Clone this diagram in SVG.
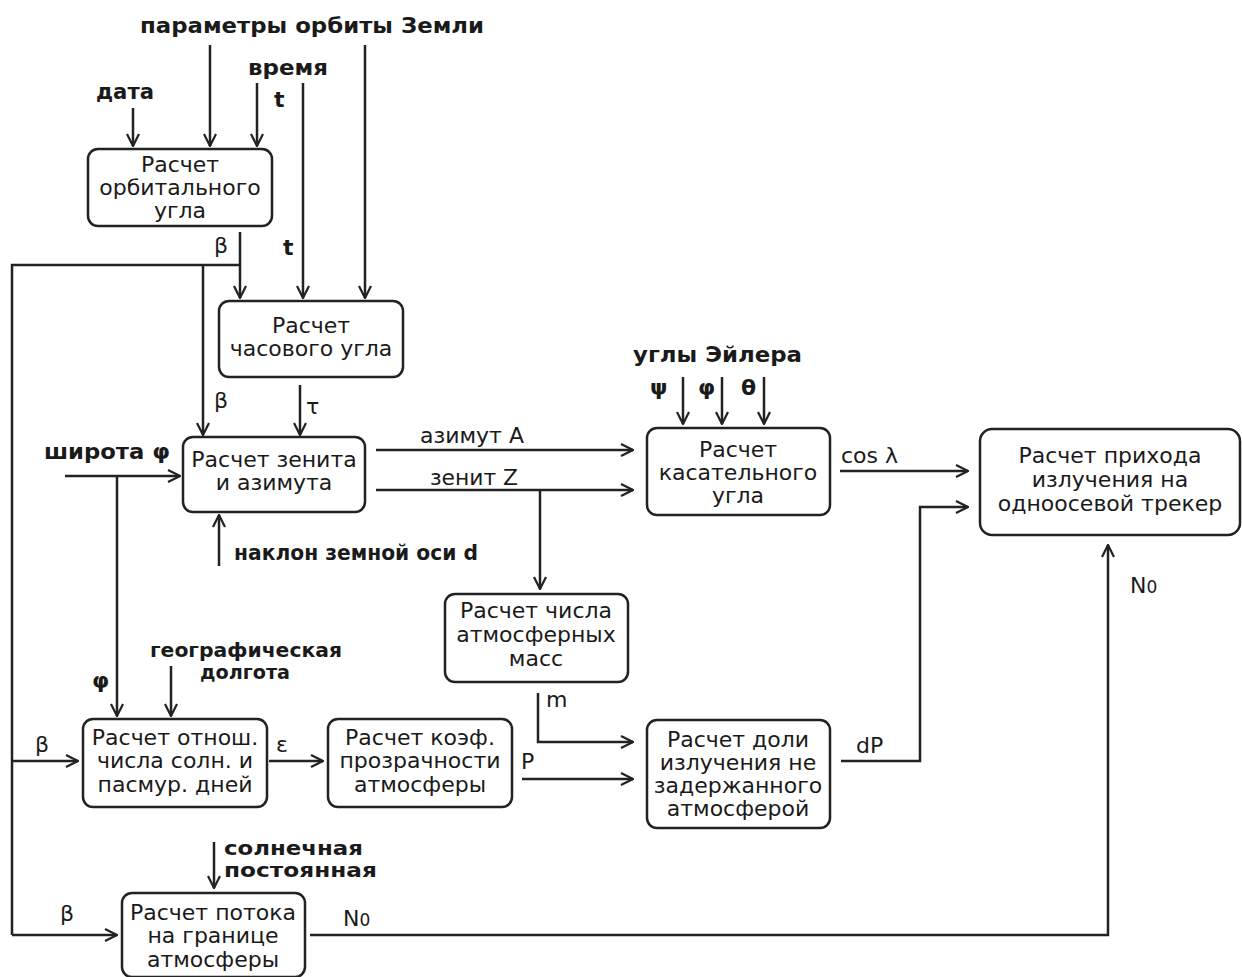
<svg xmlns="http://www.w3.org/2000/svg" width="1242" height="977" viewBox="0 0 1242 977">
<style>
.box{fill:#fff;stroke:#222;stroke-width:2.5}
.t{font-family:"DejaVu Sans","Liberation Sans",sans-serif;font-size:22px;fill:#1a1a1a;text-anchor:middle}
.b{font-family:"DejaVu Sans","Liberation Sans",sans-serif;font-weight:bold;font-size:22px;fill:#1a1a1a}
.s{font-size:20px}
.l{font-family:"DejaVu Sans","Liberation Sans",sans-serif;font-size:22px;fill:#1a1a1a}
.c{fill:none;stroke:#222;stroke-width:2.5}
.ca{fill:none;stroke:#222;stroke-width:2.5;marker-end:url(#a)}
</style>
<defs>
<marker id="a" viewBox="0 0 14 14" refX="13" refY="7" markerWidth="14" markerHeight="14" orient="auto" markerUnits="userSpaceOnUse">
<path d="M1,1 L13,7 L1,13" fill="none" stroke="#222" stroke-width="2.2"/>
</marker>
</defs>
<rect width="1242" height="977" fill="#fff"/>
<g id="connectors">
<line class="ca" x1="210" y1="45" x2="210" y2="146"/>
<line class="ca" x1="365" y1="45" x2="365" y2="298"/>
<line class="ca" x1="257" y1="83" x2="257" y2="146"/>
<line class="ca" x1="303" y1="83" x2="303" y2="298"/>
<line class="ca" x1="133" y1="108" x2="133" y2="146"/>
<line class="ca" x1="240" y1="232" x2="240" y2="298"/>
<polyline class="c" points="240,265 12,265 12,935"/>
<line class="ca" x1="203" y1="265" x2="203" y2="435"/>
<line class="ca" x1="300" y1="385" x2="300" y2="435"/>
<line class="ca" x1="65" y1="476" x2="180" y2="476"/>
<line class="ca" x1="117" y1="476" x2="117" y2="716"/>
<line class="ca" x1="219" y1="566" x2="219" y2="515"/>
<line class="ca" x1="376" y1="450" x2="633" y2="450"/>
<line class="ca" x1="376" y1="490" x2="633" y2="490"/>
<line class="ca" x1="540" y1="490" x2="540" y2="589"/>
<line class="ca" x1="683" y1="377" x2="683" y2="424"/>
<line class="ca" x1="722" y1="377" x2="722" y2="424"/>
<line class="ca" x1="764" y1="377" x2="764" y2="424"/>
<line class="ca" x1="840" y1="471" x2="968" y2="471"/>
<polyline class="ca" points="841,761 920,761 920,507 968,507"/>
<polyline class="ca" points="310,935 1108,935 1108,545"/>
<polyline class="ca" points="538,693 538,742 633,742"/>
<line class="ca" x1="522" y1="779" x2="633" y2="779"/>
<line class="ca" x1="269" y1="761" x2="323" y2="761"/>
<line class="ca" x1="12" y1="761" x2="78" y2="761"/>
<line class="ca" x1="171" y1="666" x2="171" y2="716"/>
<line class="ca" x1="214" y1="842" x2="214" y2="888"/>
<line class="ca" x1="12" y1="935" x2="117" y2="935"/>
</g>
<g id="labels">
<text class="b" x="140" y="33" textLength="344" lengthAdjust="spacingAndGlyphs">параметры орбиты Земли</text>
<text class="b" x="248" y="75" textLength="80" lengthAdjust="spacingAndGlyphs">время</text>
<text class="b" x="274" y="107">t</text>
<text class="b" x="96" y="99" textLength="58" lengthAdjust="spacingAndGlyphs">дата</text>
<text class="b" x="283" y="255">t</text>
<text class="l" x="214" y="253">β</text>
<text class="l" x="214" y="408">β</text>
<text class="l" x="306" y="414">τ</text>
<text class="b" x="44" y="459" textLength="126" lengthAdjust="spacingAndGlyphs">широта φ</text>
<text class="b" x="234" y="560" textLength="244" lengthAdjust="spacingAndGlyphs">наклон земной оси d</text>
<text class="l" x="420" y="443" textLength="104" lengthAdjust="spacingAndGlyphs">азимут A</text>
<text class="l" x="430" y="485" textLength="88" lengthAdjust="spacingAndGlyphs">зенит Z</text>
<text class="b" x="633" y="362" textLength="169" lengthAdjust="spacingAndGlyphs">углы Эйлера</text>
<text class="b" x="650" y="395">ψ</text>
<text class="b" x="698" y="395">φ</text>
<text class="b" x="741" y="395">θ</text>
<text class="l" x="841" y="463">cos λ</text>
<text class="l" x="856" y="753">dP</text>
<text class="l" x="1130" y="593">N<tspan font-size="17">0</tspan></text>
<text class="l" x="546" y="707">m</text>
<text class="l" x="521" y="769">P</text>
<text class="l" x="276" y="752">ε</text>
<text class="l" x="35" y="752">β</text>
<text class="b s" x="150" y="657" textLength="192" lengthAdjust="spacingAndGlyphs">географическая</text>
<text class="b s" x="200" y="679" textLength="90" lengthAdjust="spacingAndGlyphs">долгота</text>
<text class="b" x="92" y="688">φ</text>
<text class="b s" x="224" y="855" textLength="139" lengthAdjust="spacingAndGlyphs">солнечная</text>
<text class="b s" x="224" y="877" textLength="153" lengthAdjust="spacingAndGlyphs">постоянная</text>
<text class="l" x="60" y="921">β</text>
<text class="l" x="343" y="926">N<tspan font-size="17">0</tspan></text>
</g>
<g id="n1"><rect class="box" x="88" y="149" width="184" height="77" rx="10"/>
<text class="t" x="180" y="172">Расчет</text><text class="t" x="180" y="195">орбитального</text><text class="t" x="180" y="218">угла</text></g>
<g id="n2"><rect class="box" x="219" y="301" width="184" height="76" rx="10"/>
<text class="t" x="311" y="333">Расчет</text><text class="t" x="311" y="356">часового угла</text></g>
<g id="n3"><rect class="box" x="183" y="437" width="182" height="75" rx="10"/>
<text class="t" x="274" y="467">Расчет зенита</text><text class="t" x="274" y="490">и азимута</text></g>
<g id="n4"><rect class="box" x="647" y="428" width="183" height="87" rx="10"/>
<text class="t" x="738" y="457">Расчет</text><text class="t" x="738" y="480">касательного</text><text class="t" x="738" y="503">угла</text></g>
<g id="n5"><rect class="box" x="980" y="429" width="260" height="106" rx="12"/>
<text class="t" x="1110" y="463">Расчет прихода</text><text class="t" x="1110" y="487">излучения на</text><text class="t" x="1110" y="511">одноосевой трекер</text></g>
<g id="n6"><rect class="box" x="445" y="594" width="183" height="88" rx="10"/>
<text class="t" x="536" y="618">Расчет числа</text><text class="t" x="536" y="642">атмосферных</text><text class="t" x="536" y="666">масс</text></g>
<g id="n7"><rect class="box" x="647" y="720" width="183" height="108" rx="10"/>
<text class="t" x="738" y="747">Расчет доли</text><text class="t" x="738" y="770">излучения не</text><text class="t" x="738" y="793">задержанного</text><text class="t" x="738" y="816">атмосферой</text></g>
<g id="n8"><rect class="box" x="83" y="719" width="184" height="88" rx="10"/>
<text class="t" x="175" y="745">Расчет отнош.</text><text class="t" x="175" y="768">числа солн. и</text><text class="t" x="175" y="792">пасмур. дней</text></g>
<g id="n9"><rect class="box" x="328" y="719" width="184" height="88" rx="10"/>
<text class="t" x="420" y="745">Расчет коэф.</text><text class="t" x="420" y="768">прозрачности</text><text class="t" x="420" y="792">атмосферы</text></g>
<g id="n10"><rect class="box" x="122" y="893" width="183" height="84" rx="10"/>
<text class="t" x="213" y="920">Расчет потока</text><text class="t" x="213" y="943">на границе</text><text class="t" x="213" y="967">атмосферы</text></g>
</svg>
